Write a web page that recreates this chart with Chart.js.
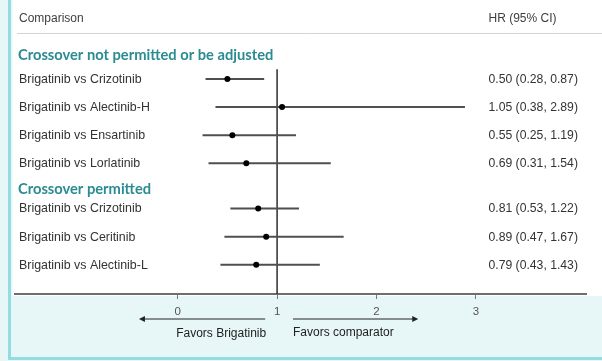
<!DOCTYPE html>
<html>
<head>
<meta charset="utf-8">
<script src="https://cdn.jsdelivr.net/npm/chart.js@4/dist/chart.umd.min.js"></script>
<style>
  html, body { margin: 0; padding: 0; background: #e7f7f8; }
  #wrap { width: 602px; height: 361px; }
</style>
</head>
<body>
<div id="wrap"><canvas id="c" width="602" height="361"></canvas></div>
<script>
// Comparisons, grouped by how crossover was handled
const groupNames = ['Crossover not permitted or be adjusted', 'Crossover permitted'];
const categories = [
  'Brigatinib vs Crizotinib',
  'Brigatinib vs Alectinib-H',
  'Brigatinib vs Ensartinib',
  'Brigatinib vs Lorlatinib',
  'Brigatinib vs Crizotinib',
  'Brigatinib vs Ceritinib',
  'Brigatinib vs Alectinib-L'
];
const groupOf = [0, 0, 0, 0, 1, 1, 1];
const hazardRatio = [0.50, 1.05, 0.55, 0.69, 0.81, 0.89, 0.79];
const ciLow  = [0.28, 0.38, 0.25, 0.31, 0.53, 0.47, 0.43];
const ciHigh = [0.87, 2.89, 1.19, 1.54, 1.22, 1.67, 1.43];
const xTicks = [0, 1, 2, 3];
const nullValue = 1;

// Vertical slot of each row: rows one unit apart, extra gap before each new group
const GROUP_GAP = 0.61;
const HEADER_OFFSET = [-0.85, -0.68];
const slot = [];
const headerSlot = [];
(function () {
  let pos = 0;
  categories.forEach((_, i) => {
    const g = groupOf[i];
    if (i > 0 && g !== groupOf[i - 1]) pos += GROUP_GAP;
    if (i === 0 || g !== groupOf[i - 1]) headerSlot[g] = pos + HEADER_OFFSET[g];
    slot.push(pos);
    pos += 1;
  });
})();

const fmt = v => v.toFixed(2);
const hrText = hazardRatio.map((v, i) => `${fmt(v)} (${fmt(ciLow[i])}, ${fmt(ciHigh[i])})`);

// Confidence intervals as broken line segments
const ciPoints = [];
categories.forEach((_, i) => {
  ciPoints.push({ x: ciLow[i], y: slot[i] }, { x: ciHigh[i], y: slot[i] }, { x: null, y: null });
});

const SANS = '"Liberation Sans", Arial, Helvetica, sans-serif';
const TEAL = '#2a8b91';

const panelPlugin = {
  id: 'panel',
  beforeDraw(chart) {
    const ctx = chart.ctx;
    const W = chart.width, H = chart.height;
    ctx.save();
    ctx.fillStyle = '#e7f7f8';
    ctx.fillRect(0, 0, W, H);
    ctx.fillStyle = '#ffffff';
    ctx.fillRect(12.5, 0, W - 12.5, 296);
    ctx.fillStyle = '#94dbe2';
    ctx.fillRect(8, 0, 3, 360);
    ctx.fillRect(8, 357, W - 8, 3);
    ctx.restore();
  },
  afterDraw(chart) {
    const ctx = chart.ctx;
    const xs = chart.scales.x, ys = chart.scales.y;
    ctx.save();
    ctx.textBaseline = 'middle';

    // column headings
    ctx.fillStyle = '#404040';
    ctx.font = `12px ${SANS}`;
    ctx.textAlign = 'left';
    ctx.fillText('Comparison', 19, 19);
    ctx.fillText('HR (95% CI)', 488.5, 19);
    ctx.strokeStyle = '#d4d4d4';
    ctx.lineWidth = 1;
    ctx.beginPath();
    ctx.moveTo(17, 33.5);
    ctx.lineTo(chart.width, 33.5);
    ctx.stroke();

    // group headings
    ctx.fillStyle = TEAL;
    ctx.font = `bold 14.7px Lato, "Open Sans", sans-serif`;
    groupNames.forEach((name, g) => {
      ctx.fillText(name, 18, ys.getPixelForValue(headerSlot[g]));
    });

    // row labels and estimates
    ctx.fillStyle = '#333333';
    categories.forEach((name, i) => {
      const y = ys.getPixelForValue(slot[i]);
      ctx.font = `12.4px ${SANS}`;
      ctx.fillText(name, 19, y + 0.5);
      ctx.font = `12.2px ${SANS}`;
      ctx.fillText(hrText[i], 488.5, y + 0.5);
    });

    // direction arrows under the axis
    const ay = 319;
    const arrow = (from, to) => {
      const x0 = xs.getPixelForValue(from), x1 = xs.getPixelForValue(to);
      const dir = Math.sign(x1 - x0);
      ctx.strokeStyle = '#222';
      ctx.fillStyle = '#222';
      ctx.lineWidth = 1;
      ctx.beginPath();
      ctx.moveTo(x0, ay);
      ctx.lineTo(x1 - dir * 5, ay);
      ctx.stroke();
      ctx.beginPath();
      ctx.moveTo(x1, ay);
      ctx.lineTo(x1 - dir * 6, ay - 3);
      ctx.lineTo(x1 - dir * 6, ay + 3);
      ctx.closePath();
      ctx.fill();
    };
    arrow(0.88, -0.39);
    arrow(1.16, 2.42);

    ctx.fillStyle = '#222';
    ctx.font = `12px ${SANS}`;
    ctx.textAlign = 'right';
    ctx.fillText('Favors Brigatinib', xs.getPixelForValue(0.89), 334);
    ctx.textAlign = 'left';
    ctx.fillText('Favors comparator', xs.getPixelForValue(1.16), 333);
    ctx.restore();
  }
};

new Chart(document.getElementById('c'), {
  type: 'scatter',
  data: {
    datasets: [
      {
        label: 'reference',
        data: [{ x: nullValue, y: -0.35 }, { x: nullValue, y: 7.65 }],
        showLine: true,
        borderColor: '#2e2e2e',
        borderWidth: 1.5,
        pointRadius: 0,
        order: 3
      },
      {
        label: '95% CI',
        data: ciPoints,
        showLine: true,
        spanGaps: false,
        borderColor: '#4f4f4f',
        borderWidth: 2,
        pointRadius: 0,
        order: 2
      },
      {
        label: 'HR',
        data: hazardRatio.map((v, i) => ({ x: v, y: slot[i] })),
        pointRadius: 3,
        pointBackgroundColor: '#000',
        pointBorderWidth: 0,
        order: 1
      }
    ]
  },
  options: {
    responsive: false,
    animation: false,
    devicePixelRatio: 1,
    layout: { padding: { left: 15, right: 16, top: 0, bottom: 0 } },
    plugins: { legend: { display: false }, tooltip: { enabled: false } },
    scales: {
      x: {
        type: 'linear',
        min: -1.637,
        max: 4.108,
        afterBuildTicks: s => { s.ticks = xTicks.map(v => ({ value: v })); },
        afterFit: s => { s.height = 67; },
        grid: { drawOnChartArea: false, drawTicks: true, tickLength: 5, color: '#777', lineWidth: 1 },
        border: { display: true, color: '#6e6e6e', width: 2 },
        ticks: { color: '#555', font: { size: 11.5, family: SANS }, padding: 6, maxRotation: 0 }
      },
      y: {
        type: 'linear',
        display: false,
        reverse: true,
        min: -2.667,
        max: 7.649
      }
    }
  },
  plugins: [panelPlugin]
});
</script>
</body>
</html>
